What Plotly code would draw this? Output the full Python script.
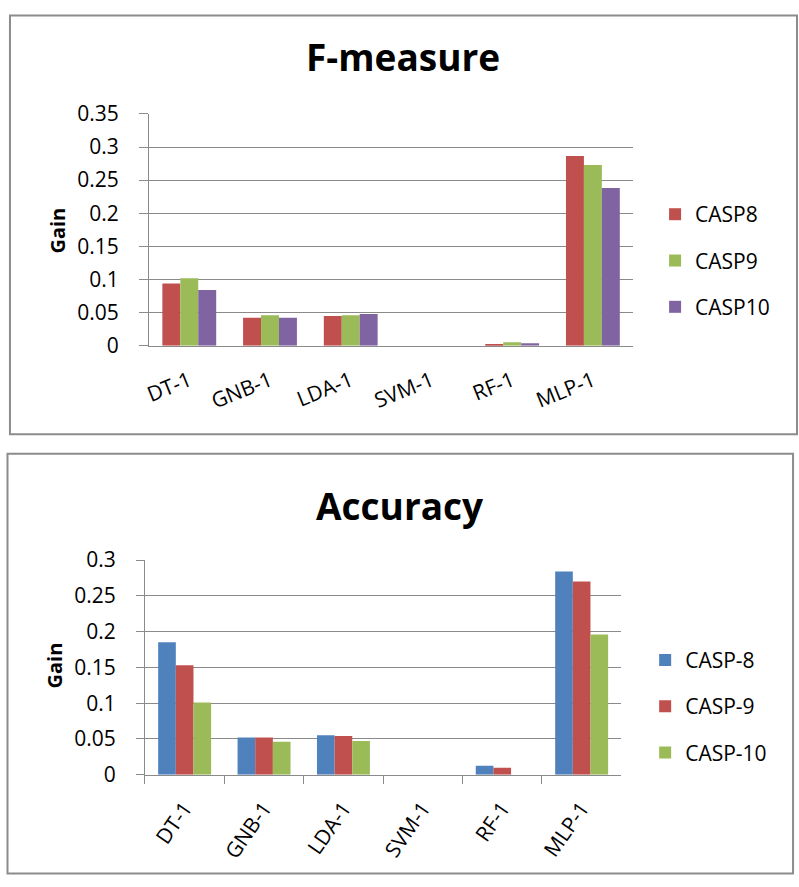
import plotly.graph_objects as go

W, H = 799, 887

categories = ["DT-1", "GNB-1", "LDA-1", "SVM-1", "RF-1", "MLP-1"]

# F-measure gains
f_series = ["CASP8", "CASP9", "CASP10"]
f_casp8 = [0.094, 0.042, 0.045, 0.0, 0.0025, 0.2865]
f_casp9 = [0.102, 0.046, 0.046, 0.0, 0.005, 0.273]
f_casp10 = [0.084, 0.042, 0.048, 0.0, 0.0035, 0.238]

# Accuracy gains
a_series = ["CASP-8", "CASP-9", "CASP-10"]
a_casp8 = [0.185, 0.052, 0.055, 0.0, 0.0124, 0.284]
a_casp9 = [0.153, 0.052, 0.054, 0.0, 0.0096, 0.270]
a_casp10 = [0.101, 0.046, 0.047, 0.0, 0.0, 0.196]

f_ticks = [0, 0.05, 0.1, 0.15, 0.2, 0.25, 0.3, 0.35]
f_ticktext = ["0", "0.05", "0.1", "0.15", "0.2", "0.25", "0.3", "0.35"]
a_ticks = [0, 0.05, 0.1, 0.15, 0.2, 0.25, 0.3]
a_ticktext = ["0", "0.05", "0.1", "0.15", "0.2", "0.25", "0.3"]

BLUE, RED, GREEN, PURPLE = "#4F81BD", "#C0504D", "#9BBB59", "#8064A2"
GRID = "#8A8A8A"
FONT = "Open Sans"

# the captured page maps figure y to screen as 8 + y*871/887
K = 871 / 887
OFF = 8


def px(x):
    return x / W


def py(y):
    yf = (y - OFF) / K
    yf = min(max(yf, 0.5), H - 0.5)
    return 1 - yf / H


fig = go.Figure()

for name, vals, col in zip(f_series, [f_casp8, f_casp9, f_casp10], [RED, GREEN, PURPLE]):
    fig.add_trace(go.Bar(x=categories, y=vals, name=name, marker=dict(color=col, line=dict(width=0)),
                         xaxis="x", yaxis="y", legend="legend", legendgroup=name))

for name, vals, col in zip(a_series, [a_casp8, a_casp9, a_casp10], [BLUE, RED, GREEN]):
    fig.add_trace(go.Bar(x=categories, y=vals, name=name, marker=dict(color=col, line=dict(width=0)),
                         xaxis="x2", yaxis="y2", legend="legend2", legendgroup=name))

axfont = dict(family=FONT, size=21, color="#000000")

fig.update_layout(
    width=W, height=H,
    margin=dict(l=0, r=0, t=0, b=0),
    paper_bgcolor="white", plot_bgcolor="white",
    barmode="group", bargap=0.333, bargroupgap=0,
    font=dict(family=FONT, size=21, color="#000000"),
    xaxis=dict(domain=[px(144), px(632)], anchor="y", showgrid=False, showline=True,
               linecolor=GRID, linewidth=1, ticks="", tickangle=-22, tickfont=axfont,
               ticklabelstandoff=14, fixedrange=True),
    yaxis=dict(domain=[py(343.3), py(108.3)], anchor="x", range=[0, 0.35],
               tickvals=f_ticks, ticktext=f_ticktext, showgrid=True, gridcolor=GRID, gridwidth=1,
               showline=True, linecolor=GRID, linewidth=1, ticks="outside", ticklen=9,
               tickcolor=GRID, tickfont=axfont, zeroline=False, ticklabelstandoff=16),
    xaxis2=dict(domain=[px(140), px(620)], anchor="y2", showgrid=False, showline=True,
                linecolor=GRID, linewidth=1, ticks="outside", tickson="boundaries", ticklen=8,
                tickcolor=GRID, tickangle=-55, tickfont=axfont, ticklabelstandoff=12),
    yaxis2=dict(domain=[py(778.3), py(560.7)], anchor="x2", range=[0, 0.3],
                tickvals=a_ticks, ticktext=a_ticktext, showgrid=True, gridcolor=GRID, gridwidth=1,
                showline=True, linecolor=GRID, linewidth=1, ticks="outside", ticklen=8,
                tickcolor=GRID, tickfont=axfont, zeroline=False, ticklabelstandoff=16),
    legend=dict(x=px(654), y=py(257), xanchor="left", yanchor="middle",
                font=dict(family=FONT, size=21), tracegroupgap=16, bgcolor="rgba(0,0,0,0)"),
    legend2=dict(x=px(644), y=py(709), xanchor="left", yanchor="middle",
                 font=dict(family=FONT, size=21), tracegroupgap=16, bgcolor="rgba(0,0,0,0)"),
    showlegend=True,
)

# chart frames
fig.add_shape(type="rect", xref="paper", yref="paper", x0=px(4), x1=px(797), y0=py(433), y1=py(2),
              line=dict(color="#8C8C8C", width=2), layer="below")
fig.add_shape(type="rect", xref="paper", yref="paper", x0=px(1.5), x1=px(793), y0=py(884.5), y1=py(453),
              line=dict(color="#8C8C8C", width=2), layer="below")

# titles
fig.add_annotation(text="<b>F-measure</b>", xref="paper", yref="paper", x=px(400), y=py(50),
                   showarrow=False, font=dict(family=FONT, size=37, color="#000000"),
                   xanchor="center", yanchor="middle")
fig.add_annotation(text="<b>Accuracy</b>", xref="paper", yref="paper", x=px(397), y=py(505),
                   showarrow=False, font=dict(family=FONT, size=37, color="#000000"),
                   xanchor="center", yanchor="middle")
# axis titles
fig.add_annotation(text="<b>Gain</b>", xref="paper", yref="paper", x=px(52), y=py(227),
                   showarrow=False, textangle=-90, font=dict(family=FONT, size=20, color="#000000"),
                   xanchor="center", yanchor="middle")
fig.add_annotation(text="<b>Gain</b>", xref="paper", yref="paper", x=px(49), y=py(668),
                   showarrow=False, textangle=-90, font=dict(family=FONT, size=20, color="#000000"),
                   xanchor="center", yanchor="middle")

css = ("var s=document.createElement('style');"
       "s.textContent='html,body{margin:0!important;padding:0!important;overflow:hidden!important;}';"
       "document.head.appendChild(s);")
fig.write_html("out.html", config={"displayModeBar": False, "responsive": False}, post_script=css)
